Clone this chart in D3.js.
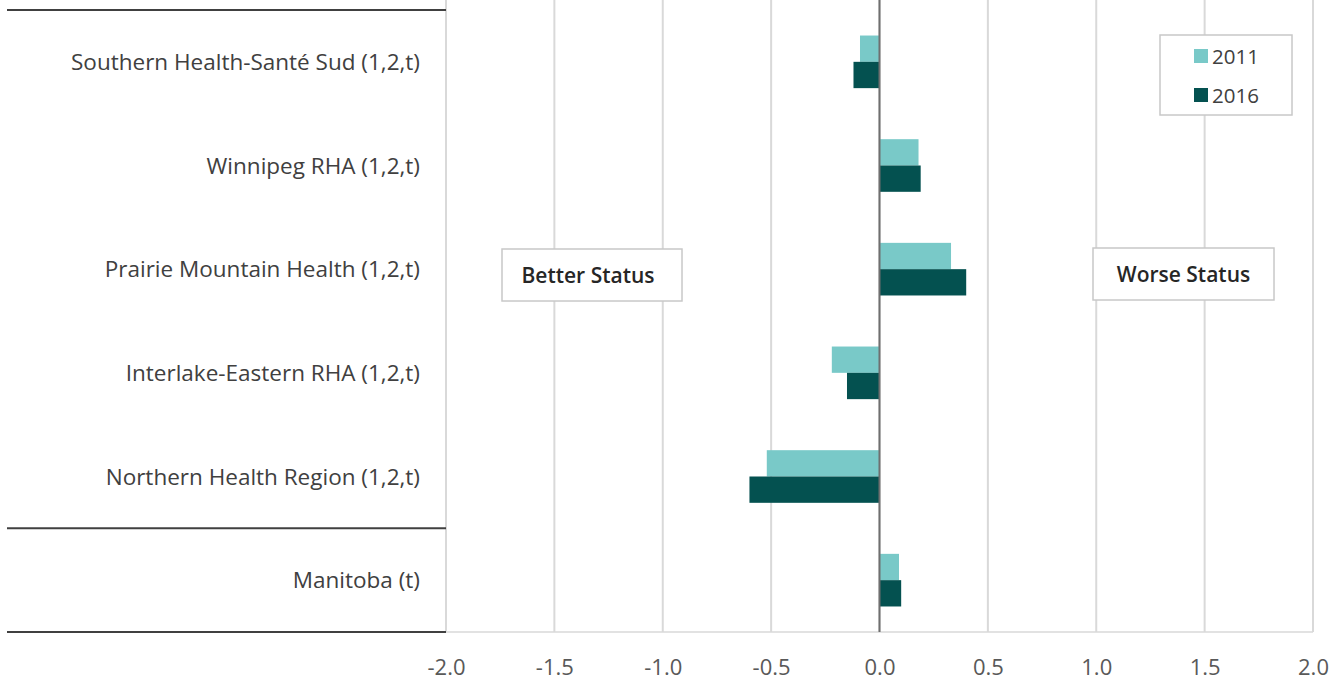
<!DOCTYPE html>
<html>
<head>
<meta charset="utf-8">
<script src="https://cdn.jsdelivr.net/npm/d3@7"></script>
<style>
  html, body { margin: 0; padding: 0; background: #fff; }
  svg { display: block; font-family: "Open Sans", "Noto Sans", sans-serif; }
</style>
</head>
<body>
<svg id="chart" width="1343" height="681"></svg>
<script>
const categories = [
  "Southern Health-Santé Sud (1,2,t)",
  "Winnipeg RHA (1,2,t)",
  "Prairie Mountain Health (1,2,t)",
  "Interlake-Eastern RHA (1,2,t)",
  "Northern Health Region (1,2,t)",
  "Manitoba (t)"
];
const seriesNames = ["2011", "2016"];
const values2011 = [-0.09, 0.18, 0.33, -0.22, -0.52, 0.09];
const values2016 = [-0.12, 0.19, 0.40, -0.15, -0.60, 0.10];
const tickValues = [-2.0, -1.5, -1.0, -0.5, 0.0, 0.5, 1.0, 1.5, 2.0];
const colors = ["#79c9c8", "#045150"];

const svg = d3.select("#chart");
const plotLeft = 446, plotRight = 1313, plotTop = 10, plotBottom = 632;

const x = d3.scaleLinear().domain([-2, 2]).range([plotLeft, plotRight]);
const y = d3.scaleBand().domain(categories).range([plotTop, plotBottom]);
const inner = d3.scaleBand().domain(seriesNames).range([0, y.bandwidth()]).paddingOuter(0.97).paddingInner(0);

// gridlines
svg.append("g").selectAll("line").data(tickValues).join("line")
  .attr("x1", d => x(d)).attr("x2", d => x(d))
  .attr("y1", 0).attr("y2", plotBottom)
  .attr("stroke", "#d9d9d9").attr("stroke-width", 2);

// bottom plot border (light)
svg.append("line").attr("x1", plotLeft).attr("x2", plotRight).attr("y1", plotBottom).attr("y2", plotBottom)
  .attr("stroke", "#d9d9d9").attr("stroke-width", 1.5);

// category separator lines on left
[plotTop, y(categories[5]), plotBottom].forEach(v => {
  svg.append("line").attr("x1", 7).attr("x2", plotLeft).attr("y1", v).attr("y2", v)
    .attr("stroke", "#404040").attr("stroke-width", 2);
});

// status boxes
const boxes = [
  {label: "Better Status", x0: 502, y0: 249, w: 180, h: 52, dx: -4},
  {label: "Worse Status", x0: 1093, y0: 248, w: 181, h: 52, dx: 0}
];
boxes.forEach(b => {
  svg.append("rect").attr("x", b.x0).attr("y", b.y0).attr("width", b.w).attr("height", b.h)
    .attr("fill", "#fff").attr("stroke", "#c8c8c8").attr("stroke-width", 1.5);
  svg.append("text").attr("x", b.x0 + b.w / 2 + b.dx).attr("y", b.y0 + b.h / 2 + 8)
    .attr("text-anchor", "middle").attr("font-size", 21).attr("font-weight", 600)
    .attr("fill", "#262626").text(b.label);
});

// bars
const data = [];
categories.forEach((c, i) => {
  data.push({cat: c, s: "2011", v: values2011[i], col: colors[0]});
  data.push({cat: c, s: "2016", v: values2016[i], col: colors[1]});
});
svg.append("g").selectAll("rect").data(data).join("rect")
  .attr("x", d => Math.min(x(0), x(d.v)))
  .attr("width", d => Math.abs(x(d.v) - x(0)))
  .attr("y", d => y(d.cat) + inner(d.s))
  .attr("height", inner.bandwidth())
  .attr("fill", d => d.col);

// zero axis line
svg.append("line").attr("x1", x(0)).attr("x2", x(0)).attr("y1", 0).attr("y2", plotBottom)
  .attr("stroke", "#6f6f6f").attr("stroke-width", 2);

// category labels
svg.append("g").selectAll("text").data(categories).join("text")
  .attr("x", 420).attr("y", d => y(d) + y.bandwidth() / 2 + 8)
  .attr("text-anchor", "end").attr("font-size", 22.5).attr("fill", "#404040")
  .text(d => d);

// x axis tick labels
const locale = d3.formatLocale({decimal: ".", thousands: ",", grouping: [3], currency: ["", ""], minus: "-"});
const xAxis = d3.axisBottom(x).tickValues(tickValues).tickFormat(locale.format(".1f")).tickSize(0).tickPadding(0);
const gx = svg.append("g").attr("transform", `translate(0, ${plotBottom + 27})`).call(xAxis);
gx.select(".domain").remove();
gx.selectAll("text").attr("font-size", 22).attr("fill", "#595959")
  .attr("font-family", "\"Open Sans\", \"Noto Sans\", sans-serif");

// legend
const lg = svg.append("g");
lg.append("rect").attr("x", 1160).attr("y", 35).attr("width", 132).attr("height", 80)
  .attr("fill", "#fff").attr("stroke", "#c8c8c8").attr("stroke-width", 1.5);
seriesNames.forEach((s, i) => {
  const yy = 56 + i * 39;
  lg.append("rect").attr("x", 1194).attr("y", yy - 7).attr("width", 14).attr("height", 14).attr("fill", colors[i]);
  lg.append("text").attr("x", 1212).attr("y", yy + 7.5).attr("font-size", 20.5).attr("fill", "#404040").text(s);
});
</script>
</body>
</html>
